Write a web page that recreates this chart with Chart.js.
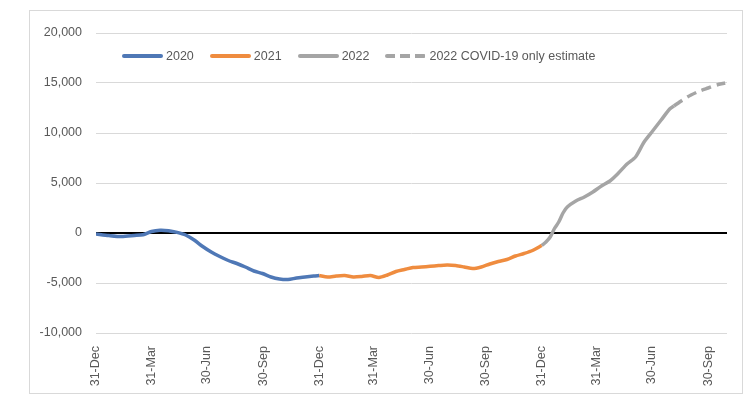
<!DOCTYPE html>
<html>
<head>
<meta charset="utf-8">
<script src="https://cdn.jsdelivr.net/npm/chart.js@4.4.0/dist/chart.umd.min.js"></script>
<style>
  html, body { margin: 0; padding: 0; background: #fff; }
  #wrap { position: relative; width: 749px; height: 397px; }
  #frame { position: absolute; left: 29px; top: 10px; width: 712px; height: 382px; border: 1px solid #d9d9d9; pointer-events: none; }
  #legend { position: absolute; top: 49px; left: 122px; display: flex; font: 12.5px "Liberation Sans", Arial, sans-serif; color: #595959; white-space: nowrap; }
  .item { display: flex; align-items: center; margin-right: 16px; }
  .swatch { width: 41px; height: 4px; margin-right: 3px; border-radius: 2px; }
</style>
</head>
<body>
<div id="wrap">
  <canvas id="chart" width="749" height="397"></canvas>
  <div id="frame"></div>
  <div id="legend"></div>
</div>
<script>
// days counted from 31-Dec-2019
const startDate = '2019-12-31';
const tickDates = ['2019-12-31','2020-03-31','2020-06-30','2020-09-30','2020-12-31','2021-03-31',
                   '2021-06-30','2021-09-30','2021-12-31','2022-03-31','2022-06-30','2022-09-30'];
const tickLabels = ['31-Dec','31-Mar','30-Jun','30-Sep','31-Dec','31-Mar','30-Jun','30-Sep','31-Dec','31-Mar','30-Jun','30-Sep'];

const days2020 = [0, 21, 42, 63, 77, 91, 105, 119, 133, 147, 161, 175, 189, 203, 217, 231, 245, 259, 273, 287, 301, 315, 329, 343, 357, 366];
const vals2020 = [-100, -250, -350, -250, -170, 150, 280, 230, 60, -200, -700, -1350, -1900, -2350, -2750, -3050, -3400, -3800, -4050, -4400, -4600, -4650, -4500, -4400, -4300, -4250];

const days2021 = [366, 380, 394, 408, 422, 436, 450, 464, 478, 492, 506, 520, 534, 548, 562, 576, 590, 604, 618, 632, 646, 660, 674, 688, 702, 716, 731];
const vals2021 = [-4250, -4400, -4300, -4250, -4400, -4350, -4250, -4450, -4200, -3850, -3650, -3450, -3400, -3330, -3260, -3200, -3250, -3400, -3560, -3400, -3100, -2850, -2650, -2300, -2050, -1750, -1250];

const days2022 = [731, 738, 745, 752, 759, 766, 773, 787, 801, 815, 829, 843, 857, 871, 885, 899, 913, 927, 941, 948];
const vals2022 = [-1250, -900, -400, 450, 1100, 2000, 2600, 3200, 3600, 4100, 4700, 5200, 6000, 6900, 7600, 9100, 10200, 11300, 12400, 12700];

const daysEst = [948, 962, 976, 990, 1004, 1018, 1032];
const valsEst = [12700, 13300, 13800, 14200, 14500, 14800, 15000];

function toDay(d) {
  return Math.round((Date.parse(d) - Date.parse(startDate)) / 86400000);
}
function pts(days, vals) {
  return days.map((d, i) => ({ x: d, y: vals[i] }));
}
const tickDays = tickDates.map(toDay);

const datasets = [
  { label: '2020', data: pts(days2020, vals2020), borderColor: '#4f78b6' },
  { label: '2021', data: pts(days2021, vals2021), borderColor: '#ef8c3f' },
  { label: '2022', data: pts(days2022, vals2022), borderColor: '#a5a5a5' },
  { label: '2022 COVID-19 only estimate', data: pts(daysEst, valsEst), borderColor: '#a5a5a5', borderDash: [10, 6] }
].map(ds => Object.assign({ borderWidth: 3.5, pointRadius: 0, tension: 0.25, fill: false, borderCapStyle: 'butt' }, ds));

document.getElementById('legend').innerHTML = datasets.map(ds => {
  const bg = ds.borderDash
    ? `repeating-linear-gradient(90deg, ${ds.borderColor} 0 10px, transparent 10px 15px)`
    : ds.borderColor;
  return `<div class="item"><div class="swatch" style="background:${bg}"></div>${ds.label}</div>`;
}).join('');

const font = { family: '"Liberation Sans", Arial, sans-serif', size: 12.5 };

new Chart(document.getElementById('chart'), {
  type: 'line',
  data: { datasets },
  options: {
    responsive: false,
    animation: false,
    layout: { padding: { left: 30, right: 22, top: 33, bottom: 0 } },
    plugins: { legend: { display: false }, tooltip: { enabled: false } },
    scales: {
      x: {
        type: 'linear',
        min: 0,
        max: 1035,
        afterBuildTicks: scale => { scale.ticks = tickDays.map(v => ({ value: v })); },
        afterFit: scale => { scale.height = 64; },
        ticks: {
          autoSkip: false,
          minRotation: 90,
          maxRotation: 90,
          padding: 5,
          color: '#595959',
          font,
          callback: (v, i) => tickLabels[i]
        },
        grid: { display: false },
        border: { display: false }
      },
      y: {
        min: -10000,
        max: 20000,
        afterFit: scale => { scale.width = 66; },
        ticks: {
          stepSize: 5000,
          padding: 14,
          color: '#595959',
          font,
          callback: v => v.toLocaleString('en-US')
        },
        grid: {
          drawTicks: false,
          color: ctx => ctx.tick && ctx.tick.value === 0 ? '#000000' : '#d9d9d9',
          lineWidth: ctx => ctx.tick && ctx.tick.value === 0 ? 2 : 1
        },
        border: { display: false }
      }
    }
  }
});
</script>
</body>
</html>
